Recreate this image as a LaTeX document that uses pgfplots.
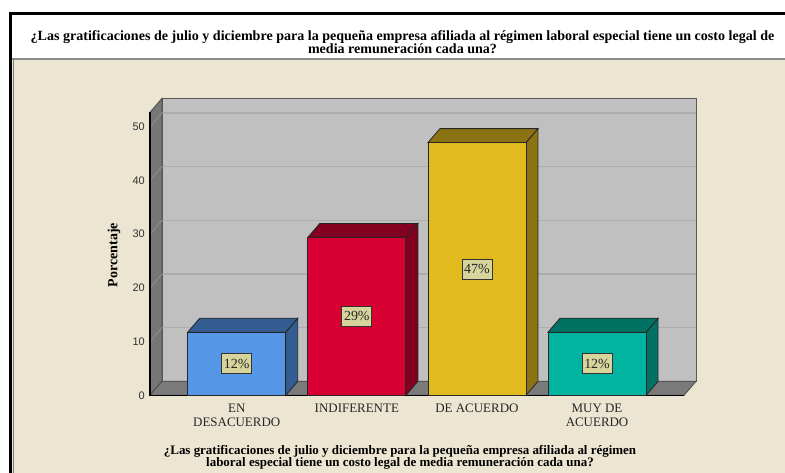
\documentclass[border=0pt]{standalone}
\usepackage{fontspec}
\setmainfont{Liberation Serif}
\newfontfamily\sansf{Liberation Sans}
\usepackage{pgfplots}
\pgfplotsset{compat=1.18}
\usepackage{pgfplotstable}

\definecolor{beige}{HTML}{EBE5D1}
\definecolor{wall}{HTML}{C0C0C0}
\definecolor{gridc}{HTML}{ADADAD}
\definecolor{sidew}{HTML}{767676}
\definecolor{floorc}{HTML}{7A7A7A}
\definecolor{labc}{HTML}{D7D49C}
\definecolor{cA}{HTML}{5596E6}\definecolor{dA}{HTML}{335D91}
\definecolor{cB}{HTML}{D80032}\definecolor{dB}{HTML}{840022}
\definecolor{cC}{HTML}{E1BA1E}\definecolor{dC}{HTML}{8B7314}
\definecolor{cD}{HTML}{00B49F}\definecolor{dD}{HTML}{007264}

\pgfplotstableread{
x v lab
0 11.76 12
1 29.41 29
2 47.06 47
3 11.76 12
}\data

\begin{document}
\begin{tikzpicture}[x=1bp,y=-1bp]
\clip (0,0) rectangle (785,473);
\useasboundingbox (0,0) rectangle (785,473);
\fill[white] (0,0) rectangle (785,473);
\fill[beige] (12,60) rectangle (790,480);
\draw[black!45, line width=2bp] (12,59) -- (790,59);
\draw[black!50, line width=1bp] (13,59) -- (13,480);
\draw[black, line width=3bp] (10.5,480) -- (10.5,14) -- (790,14);

\node[font=\bfseries\fontsize{14.1}{13.3}\selectfont, align=center] at (402.5,42)
 {¿Las gratificaciones de julio y diciembre para la pequeña empresa afiliada al régimen laboral especial tiene un costo legal de\\media remuneración cada una?};

\node[font=\bfseries\fontsize{13}{12.3}\selectfont, align=center] at (400,457)
 {¿Las gratificaciones de julio y diciembre para la pequeña empresa afiliada al régimen\\laboral especial tiene un costo legal de media remuneración cada una?};

\node[font=\bfseries\fontsize{14}{14}\selectfont, rotate=90] at (114,255) {Porcentaje};

\begin{axis}[
  at={(150bp,-395.3bp)}, anchor=south west,
  scale only axis, width=534bp, height=297bp,
  xmin=-0.722, xmax=3.724, ymin=0, ymax=55.31,
  clip=false,
  axis line style={draw=none},
  major tick length=0pt,
  xtick={0,1,2,3},
  xticklabels={{\strut EN\\\strut DESACUERDO},{\strut INDIFERENTE},{\strut DE ACUERDO},{\strut MUY DE\\\strut ACUERDO}},
  xticklabel style={align=center, font=\fontsize{13}{14}\selectfont, text=black!85, anchor=north, inner sep=0pt, yshift=-7bp},
  ytick={0,10,20,30,40,50},
  /pgf/number format/assume math mode=true,
  yticklabel style={font=\sansf\fontsize{11}{11}\selectfont, text=black!80, anchor=east, inner sep=0pt, xshift=-5bp},
]
% back wall
\addplot[fill=wall, draw=black!65, line width=0.8bp] coordinates {(-0.622,2.6) (3.824,2.6) (3.824,55.31) (-0.622,55.31)} -- cycle;
% back wall gridlines
\addplot[gridc, line width=1.3bp] coordinates {(-0.622,12.6) (3.824,12.6)};
\addplot[gridc, line width=1.3bp] coordinates {(-0.622,22.6) (3.824,22.6)};
\addplot[gridc, line width=1.3bp] coordinates {(-0.622,32.6) (3.824,32.6)};
\addplot[gridc, line width=1.3bp] coordinates {(-0.622,42.6) (3.824,42.6)};
\addplot[gridc, line width=1.3bp] coordinates {(-0.622,52.6) (3.824,52.6)};
% left wall
\addplot[fill=sidew, draw=black!70, line width=0.8bp] coordinates {(-0.722,0) (-0.622,2.6) (-0.622,55.31) (-0.722,52.71)} -- cycle;
\addplot[black!45, line width=1bp] coordinates {(-0.722,10) (-0.622,12.6)};
\addplot[black!45, line width=1bp] coordinates {(-0.722,20) (-0.622,22.6)};
\addplot[black!45, line width=1bp] coordinates {(-0.722,30) (-0.622,32.6)};
\addplot[black!45, line width=1bp] coordinates {(-0.722,40) (-0.622,42.6)};
\addplot[black!45, line width=1bp] coordinates {(-0.722,50) (-0.622,52.6)};
% floor
\addplot[fill=floorc, draw=black!70, line width=0.8bp] coordinates {(-0.722,0) (3.724,0) (3.824,2.6) (-0.622,2.6)} -- cycle;
% front edges
\addplot[black, line width=1.6bp] coordinates {(-0.722,52.71) (-0.722,0) (3.724,0)};

% bar 1
\addplot[fill=dA, draw=black!85, line width=0.8bp] coordinates {(0.408,0) (0.508,2.6) (0.508,14.36) (0.408,11.76)} -- cycle;
\addplot[fill=dA, draw=black!85, line width=0.8bp] coordinates {(-0.408,11.76) (-0.308,14.36) (0.508,14.36) (0.408,11.76)} -- cycle;
\addplot[ybar, bar width=0.816, bar shift=0, fill=cA, draw=black!85, line width=0.8bp] coordinates {(0,11.76)};
% bar 2
\addplot[fill=dB, draw=black!85, line width=0.8bp] coordinates {(1.408,0) (1.508,2.6) (1.508,32.01) (1.408,29.41)} -- cycle;
\addplot[fill=dB, draw=black!85, line width=0.8bp] coordinates {(0.592,29.41) (0.692,32.01) (1.508,32.01) (1.408,29.41)} -- cycle;
\addplot[ybar, bar width=0.816, bar shift=0, fill=cB, draw=black!85, line width=0.8bp] coordinates {(1,29.41)};
% bar 3
\addplot[fill=dC, draw=black!85, line width=0.8bp] coordinates {(2.408,0) (2.508,2.6) (2.508,49.66) (2.408,47.06)} -- cycle;
\addplot[fill=dC, draw=black!85, line width=0.8bp] coordinates {(1.592,47.06) (1.692,49.66) (2.508,49.66) (2.408,47.06)} -- cycle;
\addplot[ybar, bar width=0.816, bar shift=0, fill=cC, draw=black!85, line width=0.8bp] coordinates {(2,47.06)};
% bar 4
\addplot[fill=dD, draw=black!85, line width=0.8bp] coordinates {(3.408,0) (3.508,2.6) (3.508,14.36) (3.408,11.76)} -- cycle;
\addplot[fill=dD, draw=black!85, line width=0.8bp] coordinates {(2.592,11.76) (2.692,14.36) (3.508,14.36) (3.408,11.76)} -- cycle;
\addplot[ybar, bar width=0.816, bar shift=0, fill=cD, draw=black!85, line width=0.8bp] coordinates {(3,11.76)};

% value labels
\addplot[only marks, mark=none, point meta=explicit symbolic,
  nodes near coords={\pgfplotspointmeta\%},
  every node near coord/.append style={anchor=center, fill=labc, draw=black!80, line width=0.8bp,
    font=\fontsize{14}{14}\selectfont, text=black!85, inner xsep=1.5bp, inner ysep=0pt, minimum width=30bp, minimum height=20bp}]
  table[x=x, y expr=\thisrow{v}/2, meta=lab] {\data};
\end{axis}
\end{tikzpicture}
\end{document}
